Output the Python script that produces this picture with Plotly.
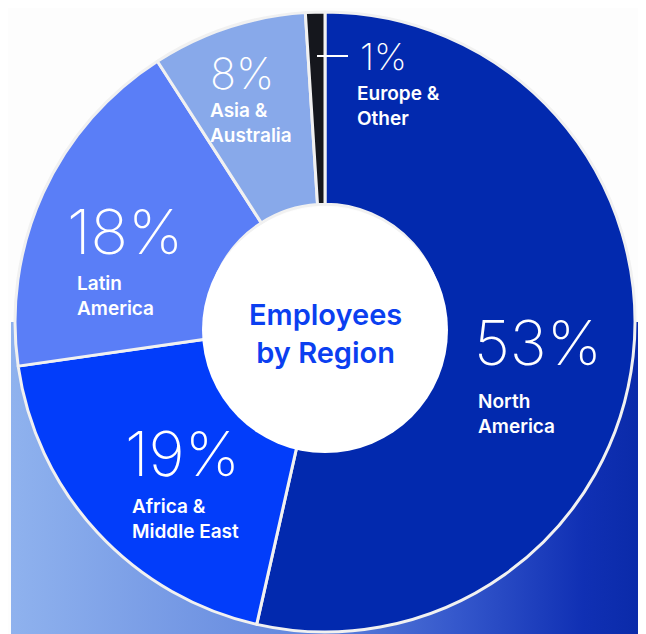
import plotly.graph_objects as go

# data
regions = ["North America", "Africa & Middle East", "Latin America", "Asia & Australia", "Europe & Other"]
shares = [53, 19, 18, 8, 1]
slice_colors = ["#0229ae", "#023dfa", "#5a7ef7", "#88a9ea", "#15171d"]
label_lines = ["North<br>America", "Africa &<br>Middle East", "Latin<br>America", "Asia &<br>Australia", "Europe &<br>Other"]

# the page puts the figure 8px in from the top-left corner of the window
OFF = 8
W, H = 646 - OFF, 634 - OFF


def px(x):
    return (x - OFF) / W


def py(y):
    return 1 - (y - OFF) / H


fig = go.Figure()

# gradient band behind the lower half of the donut
fig.add_trace(go.Scatter(
    x=[11, 646, 646, 11, 11], y=[322, 322, 634, 634, 322],
    mode="lines", line=dict(width=0), fill="toself",
    fillgradient=dict(type="horizontal",
                      colorscale=[[0, "#8fb2ee"], [0.45, "#6488de"], [0.7, "#3558cc"],
                                  [0.9, "#1030b4"], [1, "#0a2aa8"]]),
    hoverinfo="skip", showlegend=False,
))

# donut
fig.add_trace(go.Pie(
    labels=regions, values=shares,
    sort=False, direction="clockwise", rotation=0,
    hole=0.38,
    marker=dict(colors=slice_colors, line=dict(color="#f1f1f1", width=3)),
    textinfo="none", hoverinfo="label+percent",
    domain=dict(x=[px(15), px(635)], y=[py(632), py(12)]),
    showlegend=False,
))

# label placement (pixel positions of each slice's text block)
pct_pos = [(473, 342, 62), (124, 453, 62), (66, 231, 62), (209, 73, 43), (359, 56, 37)]
name_pos = [(477, 414), (131, 519), (76, 296), (209, 123), (356, 106)]

for share, (x, y, size), (nx, ny), lab in zip(shares, pct_pos, name_pos, label_lines):
    fig.add_annotation(x=px(x), y=py(y), xref="paper", yref="paper", borderpad=0,
                       text=f"{share}%", showarrow=False, xanchor="left", yanchor="middle",
                       font=dict(family="Inter", size=size, color="white", weight=200))
    fig.add_annotation(x=px(nx), y=py(ny), xref="paper", yref="paper", borderpad=0,
                       text=lab, showarrow=False, xanchor="left", yanchor="middle", align="left",
                       font=dict(family="Inter", size=19, color="white", weight=600))

# centre disc and title
fig.add_shape(type="circle", xref="paper", yref="paper",
              x0=px(202), x1=px(448), y0=py(453), y1=py(207),
              fillcolor="white", line=dict(width=0), layer="above")
fig.add_annotation(x=px(325), y=py(333), xref="paper", yref="paper",
                   text="Employees<br>by Region", showarrow=False,
                   font=dict(family="Inter", size=29, color="#0b3ff0", weight=600))

# leader line for the 1% slice
fig.add_shape(type="line", xref="paper", yref="paper",
              x0=px(317), x1=px(348), y0=py(56), y1=py(56),
              line=dict(color="white", width=2), layer="above")

fig.update_layout(
    width=W, height=H,
    margin=dict(l=0, r=0, t=0, b=0),
    paper_bgcolor="#fdfdfd", plot_bgcolor="rgba(0,0,0,0)",
    xaxis=dict(range=[OFF, 646], visible=False, fixedrange=True),
    yaxis=dict(range=[634, OFF], visible=False, fixedrange=True),
)

fig.write_html("out.html")
